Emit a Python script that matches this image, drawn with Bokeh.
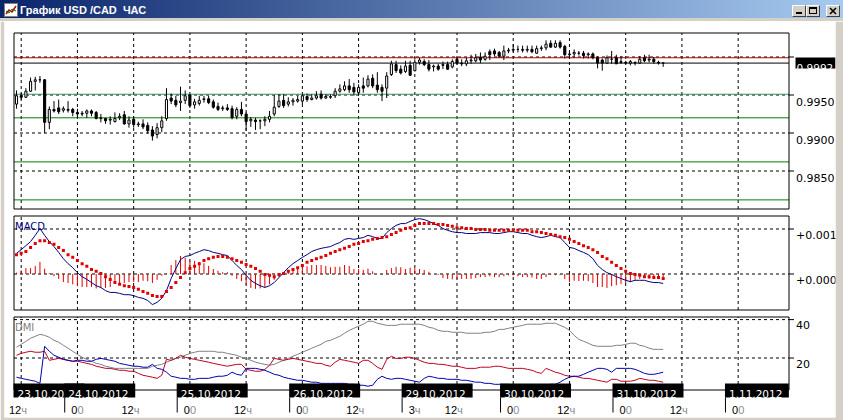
import numpy as np
from bokeh.plotting import figure
from bokeh.models import ColumnDataSource, Range1d, Div
from bokeh.layouts import column
from bokeh.core.properties import value
from bokeh.embed import file_html
from bokeh.resources import INLINE

# ---------------- data (hourly bars, bar 0 = 23.10.2012 00:00) ----------------
first_bar = 11
open_ = [0.9938, 0.9949, 0.9947, 0.9955, 0.9968, 0.9970, 0.9970, 0.9914, 0.9931, 0.9933,
         0.9930, 0.9931, 0.9931, 0.9927, 0.9926, 0.9926, 0.9929, 0.9927, 0.9919, 0.9919,
         0.9917, 0.9915, 0.9920, 0.9924, 0.9912, 0.9918, 0.9911, 0.9912, 0.9910, 0.9904,
         0.9898, 0.9907, 0.9919, 0.9946, 0.9943, 0.9940, 0.9943, 0.9950, 0.9937, 0.9939,
         0.9944, 0.9945, 0.9941, 0.9935, 0.9932, 0.9933, 0.9932, 0.9922, 0.9931, 0.9925,
         0.9916, 0.9917, 0.9916, 0.9916, 0.9918, 0.9925, 0.9935, 0.9943, 0.9938, 0.9941,
         0.9942, 0.9942, 0.9948, 0.9944, 0.9946, 0.9951, 0.9946, 0.9947, 0.9949, 0.9955,
         0.9957, 0.9962, 0.9960, 0.9953, 0.9962, 0.9962, 0.9972, 0.9963, 0.9960, 0.9959,
         0.9977, 0.9990, 0.9984, 0.9981, 0.9989, 0.9982, 0.9993, 0.9994, 0.9990, 0.9987,
         0.9988, 0.9989, 0.9990, 0.9987, 0.9997, 0.9992, 0.9991, 0.9995, 0.9995, 1.0000,
         0.9997, 1.0007, 1.0008, 1.0006, 1.0001, 1.0008, 1.0009, 1.0010, 1.0010, 1.0009,
         1.0010, 1.0005, 1.0011, 1.0012, 1.0018, 1.0013, 1.0019, 1.0014, 1.0003, 1.0004,
         1.0005, 1.0005, 1.0003, 1.0004, 0.9999, 0.9996, 0.9992, 0.9997, 0.9999, 0.9994,
         0.9993, 0.9992, 0.9993, 0.9992, 0.9999, 0.9996, 0.9997, 0.9993, 0.9992]
high = [0.9956, 0.9953, 0.9959, 0.9973, 0.9974, 0.9975, 0.9971, 0.9935, 0.9942, 0.9944,
        0.9935, 0.9942, 0.9933, 0.9932, 0.9929, 0.9931, 0.9931, 0.9929, 0.9925, 0.9920,
        0.9922, 0.9927, 0.9926, 0.9929, 0.9922, 0.9922, 0.9915, 0.9918, 0.9914, 0.9909,
        0.9913, 0.9922, 0.9959, 0.9952, 0.9949, 0.9961, 0.9956, 0.9951, 0.9945, 0.9949,
        0.9949, 0.9949, 0.9944, 0.9940, 0.9936, 0.9938, 0.9936, 0.9934, 0.9941, 0.9927,
        0.9921, 0.9920, 0.9918, 0.9922, 0.9929, 0.9950, 0.9951, 0.9951, 0.9947, 0.9946,
        0.9949, 0.9951, 0.9952, 0.9951, 0.9955, 0.9956, 0.9951, 0.9951, 0.9959, 0.9964,
        0.9968, 0.9971, 0.9966, 0.9964, 0.9973, 0.9976, 0.9977, 0.9980, 0.9964, 0.9980,
        0.9995, 0.9995, 0.9989, 0.9995, 0.9995, 0.9997, 0.9999, 0.9997, 0.9996, 0.9990,
        0.9991, 0.9994, 0.9994, 0.9997, 1.0000, 0.9997, 0.9999, 1.0003, 1.0004, 1.0006,
        1.0006, 1.0010, 1.0011, 1.0008, 1.0015, 1.0012, 1.0017, 1.0015, 1.0015, 1.0015,
        1.0015, 1.0015, 1.0015, 1.0022, 1.0022, 1.0022, 1.0022, 1.0016, 1.0007, 1.0010,
        1.0008, 1.0008, 1.0006, 1.0006, 1.0001, 0.9998, 1.0002, 1.0008, 1.0003, 1.0001,
        0.9995, 0.9996, 0.9994, 1.0001, 1.0003, 1.0003, 1.0000, 0.9995, 0.9993]
low = [0.9932, 0.9944, 0.9946, 0.9954, 0.9956, 0.9966, 0.9900, 0.9905, 0.9927, 0.9925,
       0.9927, 0.9927, 0.9922, 0.9920, 0.9922, 0.9920, 0.9922, 0.9918, 0.9914, 0.9912,
       0.9911, 0.9914, 0.9917, 0.9911, 0.9907, 0.9907, 0.9908, 0.9905, 0.9899, 0.9890,
       0.9893, 0.9901, 0.9916, 0.9938, 0.9934, 0.9929, 0.9938, 0.9933, 0.9932, 0.9936,
       0.9940, 0.9938, 0.9932, 0.9929, 0.9929, 0.9929, 0.9918, 0.9918, 0.9922, 0.9903,
       0.9908, 0.9904, 0.9905, 0.9909, 0.9914, 0.9922, 0.9933, 0.9933, 0.9935, 0.9936,
       0.9940, 0.9938, 0.9941, 0.9943, 0.9944, 0.9944, 0.9945, 0.9945, 0.9946, 0.9953,
       0.9955, 0.9953, 0.9949, 0.9949, 0.9953, 0.9960, 0.9959, 0.9953, 0.9942, 0.9946,
       0.9975, 0.9979, 0.9977, 0.9979, 0.9975, 0.9981, 0.9990, 0.9988, 0.9981, 0.9981,
       0.9982, 0.9984, 0.9983, 0.9985, 0.9990, 0.9988, 0.9988, 0.9991, 0.9993, 0.9992,
       0.9995, 0.9996, 1.0001, 0.9999, 0.9996, 1.0005, 1.0006, 1.0006, 1.0006, 1.0006,
       1.0005, 1.0004, 1.0008, 1.0009, 1.0012, 1.0012, 1.0011, 0.9998, 0.9998, 0.9999,
       1.0002, 0.9998, 0.9998, 0.9997, 0.9985, 0.9982, 0.9991, 0.9991, 0.9991, 0.9991,
       0.9991, 0.9989, 0.9989, 0.9991, 0.9993, 0.9993, 0.9991, 0.9990, 0.9987]
close = [0.9949, 0.9947, 0.9955, 0.9968, 0.9970, 0.9970, 0.9914, 0.9931, 0.9929, 0.9928,
         0.9932, 0.9930, 0.9927, 0.9925, 0.9925, 0.9929, 0.9926, 0.9919, 0.9920, 0.9916,
         0.9918, 0.9919, 0.9922, 0.9912, 0.9917, 0.9911, 0.9912, 0.9908, 0.9903, 0.9896,
         0.9907, 0.9916, 0.9944, 0.9942, 0.9937, 0.9942, 0.9949, 0.9936, 0.9941, 0.9943,
         0.9945, 0.9940, 0.9934, 0.9931, 0.9933, 0.9931, 0.9920, 0.9931, 0.9925, 0.9915,
         0.9918, 0.9915, 0.9916, 0.9918, 0.9922, 0.9934, 0.9942, 0.9936, 0.9941, 0.9943,
         0.9944, 0.9949, 0.9944, 0.9946, 0.9949, 0.9946, 0.9948, 0.9948, 0.9955, 0.9958,
         0.9962, 0.9957, 0.9954, 0.9960, 0.9959, 0.9971, 0.9962, 0.9957, 0.9955, 0.9975,
         0.9991, 0.9982, 0.9979, 0.9988, 0.9976, 0.9993, 0.9996, 0.9990, 0.9984, 0.9988,
         0.9984, 0.9990, 0.9984, 0.9994, 0.9992, 0.9991, 0.9995, 0.9996, 0.9999, 0.9996,
         1.0001, 1.0003, 1.0004, 1.0001, 1.0008, 1.0009, 1.0010, 1.0010, 1.0009, 1.0010,
         1.0007, 1.0011, 1.0012, 1.0017, 1.0013, 1.0018, 1.0013, 1.0003, 1.0004, 1.0006,
         1.0005, 1.0002, 1.0004, 0.9999, 0.9992, 0.9992, 0.9999, 0.9997, 0.9991, 0.9993,
         0.9992, 0.9994, 0.9992, 0.9997, 0.9995, 0.9997, 0.9994, 0.9992, 0.9992]
bar = list(range(first_bar, first_bar + len(close)))

# MACD (units of 0.0001)
macd_e4 = [4.6, 5.4, 6.3, 7.2, 8.6, 10.1, 8.6, 7.2, 6.1, 4.8,
           3.4, 2.3, 1.4, 0.3, -0.6, -1.2, -1.9, -2.6, -3.0, -3.7,
           -4.1, -4.1, -4.3, -4.6, -4.6, -4.8, -5.2, -5.4, -5.9, -6.8,
           -6.3, -5.4, -3.7, -1.0, 1.2, 3.2, 3.9, 4.1, 4.6, 5.0,
           5.4, 5.2, 4.8, 4.6, 4.3, 4.1, 3.0, 1.9, 1.0, -0.3,
           -1.4, -2.1, -2.6, -3.0, -2.6, -1.9, -0.8, 0.3, 1.4, 2.3,
           3.0, 3.7, 4.3, 5.0, 5.4, 5.7, 5.9, 6.1, 6.6, 7.0,
           7.7, 7.9, 7.7, 7.9, 8.1, 8.6, 8.3, 7.9, 7.9, 9.2,
           10.1, 10.8, 11.2, 11.2, 11.7, 12.1, 12.3, 12.1, 11.7, 11.2,
           10.8, 10.1, 9.7, 9.4, 9.2, 9.2, 9.0, 9.0, 9.0, 9.2,
           9.2, 9.2, 9.0, 9.0, 9.2, 9.4, 9.4, 9.2, 9.0, 9.0,
           8.6, 8.3, 8.1, 8.3, 8.6, 8.3, 8.1, 7.0, 5.9, 5.7,
           5.2, 4.8, 4.3, 3.4, 1.9, 1.0, 0.3, -0.1, -0.6, -1.0,
           -1.4, -1.7, -1.4, -1.4, -1.4, -1.7, -1.9, -1.9, -2.1]
signal_e4 = [4.3, 4.6, 5.0, 5.9, 6.8, 7.4, 7.4, 7.0, 6.6, 5.9,
             5.2, 4.3, 3.7, 3.0, 2.3, 1.7, 1.0, 0.6, 0.1, -0.6,
             -1.2, -1.9, -2.3, -2.6, -2.8, -3.0, -3.4, -3.9, -4.3, -4.8,
             -5.0, -5.0, -3.9, -3.0, -1.9, -0.8, 0.3, 1.2, 1.7, 2.3,
             3.0, 3.4, 3.7, 3.9, 3.9, 3.7, 3.4, 3.0, 2.6, 2.1,
             1.7, 1.2, 0.6, -0.1, -0.3, -0.6, -0.1, 0.1, 0.6, 1.0,
             1.4, 1.9, 2.6, 3.0, 3.4, 3.7, 4.1, 4.6, 5.0, 5.4,
             5.7, 6.1, 6.6, 6.8, 7.2, 7.4, 7.7, 7.9, 8.1, 8.3,
             8.8, 9.2, 9.7, 10.1, 10.3, 10.8, 11.2, 11.2, 11.2, 11.2,
             11.0, 11.0, 10.8, 10.6, 10.3, 10.3, 10.1, 10.1, 9.9, 9.9,
             9.9, 9.7, 9.7, 9.7, 9.7, 9.7, 9.7, 9.7, 9.7, 9.7,
             9.4, 9.4, 9.2, 9.0, 8.8, 8.6, 8.3, 8.1, 7.7, 7.2,
             6.8, 6.3, 5.9, 5.4, 4.8, 3.9, 3.4, 2.6, 1.9, 1.2,
             0.6, 0.1, -0.1, -0.3, -0.6, -0.6, -0.8, -0.8, -1.0]
hist_e4 = [0.3, 0.8, 1.3, 1.3, 1.8, 2.7, 1.2, 0.2, -0.5, -1.1,
           -1.8, -2.0, -2.3, -2.7, -2.9, -2.9, -2.9, -3.2, -3.1, -3.1,
           -2.9, -2.2, -2.0, -2.0, -1.8, -1.8, -1.8, -1.5, -1.6, -2.0,
           -1.3, -0.4, 0.2, 2.0, 3.1, 4.0, 3.6, 2.9, 2.9, 2.7,
           2.4, 1.8, 1.1, 0.7, 0.4, 0.4, -0.4, -1.1, -1.6, -2.4,
           -3.1, -3.3, -3.2, -2.9, -2.3, -1.3, -0.7, 0.2, 0.8, 1.3,
           1.6, 1.8, 1.7, 2.0, 2.0, 2.0, 1.8, 1.5, 1.6, 1.6,
           2.0, 1.8, 1.1, 1.1, 0.9, 1.2, 0.6, 0.0, -0.2, 0.9,
           1.3, 1.6, 1.5, 1.1, 1.4, 1.3, 1.1, 0.9, 0.5, 0.0,
           -0.2, -0.9, -1.1, -1.2, -1.1, -1.1, -1.1, -1.1, -0.9, -0.7,
           -0.7, -0.5, -0.7, -0.7, -0.5, -0.3, -0.3, -0.5, -0.7, -0.7,
           -0.8, -1.1, -1.1, -0.7, -0.2, -0.3, -0.2, -1.1, -1.8, -1.5,
           -1.6, -1.5, -1.6, -2.0, -2.9, -2.9, -3.1, -2.7, -2.5, -2.2,
           -2.0, -1.8, -1.3, -1.1, -0.8, -1.1, -1.1, -1.1, -1.1]

# DMI
adx = [25.6, 27.1, 28.7, 30.3, 31.3, 32.3, 31.8, 30.8, 29.2, 28.2,
       26.6, 25.1, 23.5, 21.9, 20.4, 19.3, 18.3, 17.2, 16.7, 15.7,
       15.2, 14.6, 14.6, 14.6, 14.6, 14.6, 14.6, 14.6, 14.6, 15.7,
       16.2, 16.7, 17.8, 18.8, 19.8, 20.4, 21.4, 22.4, 23.0, 23.5,
       23.5, 23.5, 23.5, 23.0, 23.0, 22.4, 21.9, 21.4, 20.4, 19.8,
       18.8, 17.8, 17.2, 16.7, 16.2, 16.7, 17.8, 18.8, 19.8, 20.9,
       21.9, 23.0, 24.0, 25.1, 26.1, 27.1, 28.7, 29.2, 30.3, 31.3,
       32.9, 34.4, 35.5, 36.5, 37.6, 39.1, 39.1, 38.1, 37.6, 37.0,
       37.0, 37.0, 37.6, 37.6, 37.6, 37.6, 37.6, 37.0, 36.0, 35.5,
       34.4, 33.9, 33.9, 33.4, 33.4, 33.4, 32.9, 32.9, 32.9, 32.9,
       33.4, 33.4, 33.9, 34.9, 34.9, 35.5, 36.0, 36.5, 37.0, 37.6,
       37.6, 37.6, 37.6, 38.1, 38.1, 38.1, 37.0, 36.0, 34.4, 31.8,
       29.7, 28.7, 27.7, 26.6, 26.1, 26.1, 26.1, 26.1, 26.6, 26.6,
       27.1, 27.7, 27.7, 26.6, 26.1, 25.1, 24.5, 24.5, 24.5]
di_red = [21.4, 22.4, 23.0, 23.5, 23.0, 23.0, 23.5, 18.8, 19.3, 19.8,
          19.3, 18.8, 18.3, 18.3, 17.8, 17.2, 16.7, 15.7, 15.2, 14.6,
          14.6, 14.1, 13.6, 13.6, 13.1, 13.1, 12.0, 11.0, 10.5, 10.0,
          9.4, 11.0, 19.3, 18.8, 19.8, 21.4, 20.4, 19.8, 19.3, 18.8,
          18.3, 17.8, 17.2, 16.7, 16.2, 15.7, 16.2, 16.7, 16.7, 14.1,
          13.6, 13.1, 13.1, 14.1, 16.2, 19.8, 19.3, 18.8, 19.3, 19.8,
          19.3, 18.8, 18.3, 17.8, 17.2, 17.2, 16.2, 15.7, 17.8, 19.3,
          18.8, 18.3, 17.8, 17.2, 18.8, 18.8, 17.2, 15.2, 14.1, 19.3,
          20.9, 19.8, 19.8, 20.4, 20.4, 19.8, 18.8, 17.8, 17.2, 17.2,
          16.7, 16.7, 16.2, 15.7, 15.7, 15.2, 14.6, 14.6, 14.6, 15.2,
          15.2, 15.2, 15.7, 15.7, 15.2, 14.6, 14.6, 14.6, 14.6, 14.1,
          13.6, 12.6, 12.0, 14.6, 13.6, 12.6, 12.0, 11.0, 10.5, 10.5,
          10.0, 9.4, 9.4, 8.9, 8.4, 7.9, 7.4, 8.9, 8.9, 7.9,
          7.9, 7.9, 8.4, 9.4, 8.9, 8.4, 8.4, 7.9, 7.4]
di_blue = [10.0, 9.4, 8.9, 8.4, 7.9, 6.8, 26.1, 23.5, 21.4, 20.4,
           19.3, 18.8, 18.3, 18.8, 18.8, 18.3, 18.3, 19.3, 19.8, 19.3,
           18.8, 18.3, 17.2, 16.7, 16.2, 15.7, 15.7, 15.2, 15.2, 16.7,
           14.6, 14.1, 12.6, 10.5, 10.0, 9.4, 9.4, 8.9, 8.9, 9.4,
           9.4, 9.4, 10.0, 10.5, 10.5, 11.0, 12.6, 11.5, 11.0, 14.6,
           14.6, 14.6, 14.1, 13.6, 12.6, 11.5, 11.0, 10.0, 9.4, 8.9,
           8.4, 8.4, 7.9, 7.4, 7.4, 6.8, 6.8, 6.8, 6.8, 6.8,
           6.8, 6.3, 6.3, 5.8, 5.8, 5.3, 5.8, 8.9, 10.5, 9.4,
           8.9, 9.4, 9.4, 8.9, 8.4, 7.9, 7.4, 9.4, 10.5, 10.0,
           9.4, 9.4, 8.9, 8.9, 8.9, 8.4, 8.4, 7.9, 7.4, 7.4,
           6.8, 6.8, 6.3, 6.3, 6.3, 6.3, 5.8, 5.8, 5.8, 5.8,
           5.3, 5.8, 5.8, 5.8, 6.3, 6.3, 7.4, 8.9, 10.0, 10.5,
           10.5, 11.5, 12.6, 13.6, 14.6, 14.6, 14.1, 12.6, 14.6, 14.6,
           14.6, 14.6, 14.1, 13.1, 12.0, 11.5, 11.5, 12.0, 12.6]

ask_price = 0.9999
bid_price = 0.9992
green_levels = [0.9951, 0.9920, 0.9862, 0.9812]
green_colors = ["#339966", "#008000", "#008000", "#008000"]

price_ticks = [0.9850, 0.9900, 0.9950, 1.0000]
price_tick_labels = ["0.9850", "0.9900", "0.9950", ""]
macd_ticks = [0.0, 0.001]
macd_tick_labels = ["+0.000", "+0.001"]
dmi_ticks = [20, 40]
dmi_tick_labels = ["20", "40"]

time_ticks = [12, 24, 36, 48, 60, 72, 84, 96, 105, 117, 129, 141, 153, 165]
time_labels = ["12ч", "00", "12ч", "00", "12ч", "00", "12ч", "3ч", "12ч", "00", "12ч", "00", "12ч", "00"]
day_first_bar = [0, 24, 48, 72, 96, 117, 141, 165]
day_labels = ["23.10.2012", "24.10.2012", "25.10.2012", "26.10.2012",
              "29.10.2012", "30.10.2012", "31.10.2012", "1.11.2012"]

# ---------------- geometry (reference pixel layout -> data units) ----------------
PX_PER_BAR = 4.686


def bar_at(px):
    return 12 + (px - 20.7) / PX_PER_BAR


def price_at(py):
    return 0.9950 + (94.5 - py) / 7600


def macd_at(py):
    return (273.5 - py) / 45000


def dmi_at(py):
    return 20 + (357.5 - py) / 1.92


def price_row(v):
    return 94.5 - (v - 0.9950) * 7600


def macd_row(v):
    return 273.5 - v * 45000


def dmi_row(v):
    return 357.5 - (v - 20) * 1.92


FIG_LEFT, FIG_RIGHT, FIG_TOP, FIG_BOTTOM = 4, 835, 21, 417
XL, XR = bar_at(13.5), bar_at(788.5)
BOX_SHIFT = 13.2 / PX_PER_BAR
FONT = "DejaVu Sans"
TFONT = "Liberation Sans"
DASH = "3 3"

p = figure(width=843, height=399,
           x_range=Range1d(bar_at(FIG_LEFT), bar_at(FIG_RIGHT)),
           y_range=Range1d(price_at(FIG_BOTTOM), price_at(FIG_TOP)),
           output_backend="svg", toolbar_location=None,
           x_axis_location=None, y_axis_location=None,
           min_border_left=FIG_LEFT, min_border_right=843 - FIG_RIGHT,
           min_border_top=0, min_border_bottom=420 - FIG_BOTTOM,
           border_fill_color="#D4D0C8", background_fill_color="white",
           outline_line_color=None, margin=(0, 0, 0, 0))
p.grid.visible = False
p.extra_y_ranges = {"macd": Range1d(macd_at(FIG_BOTTOM), macd_at(FIG_TOP)),
                    "dmi": Range1d(dmi_at(FIG_BOTTOM), dmi_at(FIG_TOP))}

panels = [
    dict(rng="default", top=price_at(32.5), bottom=price_at(208.5), ticks=price_ticks,
         labels=price_tick_labels, row=price_row, at=price_at, lab_dy=7.0),
    dict(rng="macd", top=macd_at(215.5), bottom=macd_at(309.5), ticks=macd_ticks,
         labels=macd_tick_labels, row=macd_row, at=macd_at, lab_dy=5.5),
    dict(rng="dmi", top=dmi_at(316.5), bottom=dmi_at(389.5), ticks=dmi_ticks,
         labels=dmi_tick_labels, row=dmi_row, at=dmi_at, lab_dy=5.5),
]

for pn in panels:
    r = pn["rng"]
    n = len(time_ticks)
    # vertical dashed grid
    p.segment(x0=time_ticks, y0=[pn["bottom"]] * n, x1=time_ticks, y1=[pn["top"]] * n,
              line_color="black", line_width=1, line_dash=DASH, y_range_name=r)
    m = len(pn["ticks"])
    # horizontal dashed grid
    p.segment(x0=[XL] * m, y0=pn["ticks"], x1=[XR] * m, y1=pn["ticks"],
              line_color="black", line_width=1, line_dash=DASH, y_range_name=r)
    # tick marks and labels on the right
    p.segment(x0=[XR] * m, y0=pn["ticks"], x1=[bar_at(793.5)] * m, y1=pn["ticks"],
              line_color="black", line_width=1, y_range_name=r)
    p.text(x=[bar_at(795.5)] * m, y=[pn["at"](pn["row"](t) + pn["lab_dy"]) for t in pn["ticks"]],
           text=pn["labels"], text_font=value(FONT), text_font_size="11px",
           text_color="black", text_align="left", text_baseline="alphabetic", y_range_name=r)

# ---------------- price panel ----------------
o = np.array(open_)
c = np.array(close)
src = ColumnDataSource(dict(x=bar, high=high, low=low,
                            body_top=np.maximum(o, c), body_bottom=np.minimum(o, c),
                            fill=["white" if cc >= oo else "black" for oo, cc in zip(o, c)]))
k = len(green_levels)
p.segment(x0=[XL] * k, y0=green_levels, x1=[XR] * k, y1=green_levels,
          line_color=green_colors, line_width=1)
p.segment(x0=[XL], y0=[ask_price], x1=[XR], y1=[ask_price], line_color="#C00000", line_width=1)
p.segment(x0=[XL], y0=[bid_price], x1=[XR], y1=[bid_price], line_color="black", line_width=1)
p.segment(x0="x", y0="low", x1="x", y1="high", source=src, line_color="black", line_width=1)
p.vbar(x="x", width=0.45, top="body_top", bottom="body_bottom", source=src,
       fill_color="fill", line_color="black", line_width=1)
# current price box
p.quad(left=[bar_at(795)], right=[bar_at(835)],
       top=[price_at(price_row(bid_price) - 5.5)], bottom=[price_at(price_row(bid_price) + 5.5)],
       fill_color="black", line_color=None)
p.text(x=[bar_at(796)], y=[price_at(price_row(bid_price) + 4.6)], text=[f"{bid_price:.4f}"],
       text_font=value(FONT), text_font_size="10.5px", text_color="white",
       text_align="left", text_baseline="alphabetic")

# ---------------- MACD panel ----------------
macd = np.array(macd_e4) * 1e-4
sig = np.array(signal_e4) * 1e-4
hist = np.array(hist_e4) * 1e-4
p.segment(x0=bar, y0=np.zeros(len(bar)), x1=bar, y1=hist, line_color="#E00000",
          line_width=1, y_range_name="macd")
p.line(bar, macd, line_color="#000080", line_width=1, y_range_name="macd")
p.scatter(bar, sig, marker="square", size=3, fill_color="#E00000", line_color=None,
          y_range_name="macd")
p.text(x=[bar_at(14.5)], y=[macd_at(226)], text=["MACD"], text_font=value(FONT),
       text_font_size="10px", text_color="#000080", text_align="left",
       text_baseline="alphabetic", y_range_name="macd")

# ---------------- DMI panel ----------------
p.line(bar, adx, line_color="#808080", line_width=1, y_range_name="dmi")
p.line(bar, di_red, line_color="#C00020", line_width=1, y_range_name="dmi")
p.line(bar, di_blue, line_color="#0000B0", line_width=1, y_range_name="dmi")
p.text(x=[bar_at(14.5)], y=[dmi_at(326.5)], text=["DMI"], text_font=value(FONT),
       text_font_size="10px", text_color="#808080", text_align="left",
       text_baseline="alphabetic", y_range_name="dmi")

# panel frames
for pn in panels:
    p.quad(left=[XL], right=[XR], bottom=[pn["bottom"]], top=[pn["top"]],
           fill_color=None, line_color="black", line_width=1, y_range_name=pn["rng"])

# ---------------- time axis ----------------
n = len(time_ticks)
p.text(x=time_ticks, y=[dmi_at(409)] * n, text=[t[:-1] for t in time_labels],
       text_font=value(TFONT), text_font_size="11px", text_color="black",
       text_align="right", text_baseline="alphabetic", y_range_name="dmi")
p.text(x=time_ticks, y=[dmi_at(409)] * n, text=[t[-1] for t in time_labels],
       text_font=value(TFONT), text_font_size="11px", text_color="#8C8C8C",
       text_align="left", text_baseline="alphabetic", y_range_name="dmi")

for d, lab in zip(day_first_bar, day_labels):
    left = max(XL - 0.5 / PX_PER_BAR, d - BOX_SHIFT)
    right = left + len(lab) * 7.1 / PX_PER_BAR
    p.quad(left=[left], right=[right], top=[dmi_at(383)], bottom=[dmi_at(397)],
           fill_color="black", line_color=None, y_range_name="dmi")
    p.text(x=[left + 4 / PX_PER_BAR], y=[dmi_at(393.5)], text=[lab], text_font=value(FONT),
           text_font_size="10.5px", text_color="white", text_align="left",
           text_baseline="alphabetic", y_range_name="dmi")

seps = [d - BOX_SHIFT + 0.5 / PX_PER_BAR for d in day_first_bar[1:]]
ns = len(seps)
p.segment(x0=seps, y0=[dmi_at(397)] * ns, x1=seps, y1=[dmi_at(412)] * ns,
          line_color="black", line_width=1, y_range_name="dmi")

# ---------------- window title bar ----------------


def button(left, inner):
    return ('<div style="position:absolute;left:%dpx;top:5px;width:14px;height:12px;'
            'background:#D4D0C8;box-sizing:border-box;border-top:1px solid #fff;'
            'border-left:1px solid #fff;border-right:1px solid #404040;'
            'border-bottom:1px solid #404040;">'
            '<svg width="12" height="10" style="position:absolute;left:0;top:0">%s</svg></div>'
            % (left, inner))


title_html = (
    '<div style="position:relative;width:843px;height:21px;overflow:hidden;background:#D4D0C8;">'
    '<div style="position:absolute;left:0;top:0;width:843px;height:18px;'
    'background:linear-gradient(to right,#0A246A,#A6CAF0);"></div>'
    '<svg style="position:absolute;left:4px;top:3px" width="14" height="14">'
    '<rect x="0.5" y="0.5" width="13" height="13" fill="#fff" stroke="#808080"/>'
    '<polyline points="2,11 5,7 8,9 12,3" fill="none" stroke="#C00000" stroke-width="1.5"/>'
    '<polyline points="2,8 5,10 8,6 12,8" fill="none" stroke="#008000" stroke-width="1"/>'
    '</svg>'
    '<div style="position:absolute;left:20px;top:4px;font-family:\'Liberation Sans\';'
    'font-weight:bold;font-size:11px;line-height:13px;color:#fff;white-space:pre;">'
    'График USD /CAD  ЧАС</div>'
    + button(792, '<rect x="3" y="6" width="6" height="2" fill="#000"/>')
    + button(806, '<rect x="2.5" y="1.5" width="7" height="6" fill="none" stroke="#000"/>'
                  '<rect x="2" y="1" width="8" height="2" fill="#000"/>')
    + button(826, '<path d="M3,2 L9,8 M9,2 L3,8" stroke="#000" stroke-width="1.6"/>')
    + '</div>'
)
title_div = Div(text=title_html, width=843, height=21, margin=(0, 0, 0, 0))

layout = column(title_div, p, spacing=0, margin=(0, 0, 0, 0))

with open("out.html", "w") as f:
    f.write(file_html(layout, INLINE))
